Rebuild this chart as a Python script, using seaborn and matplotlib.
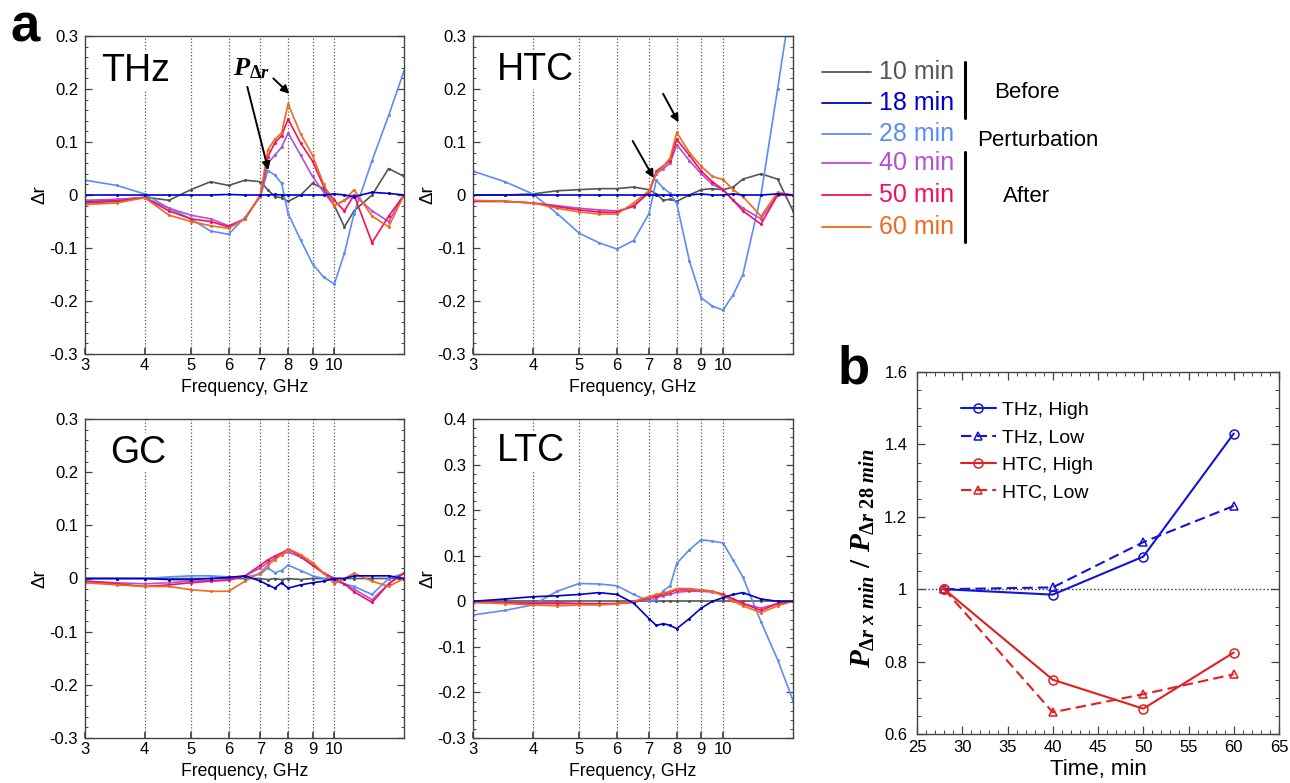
import numpy as np
import pandas as pd
import seaborn as sns
import matplotlib.pyplot as plt
from matplotlib.lines import Line2D
from matplotlib.ticker import AutoMinorLocator, FixedLocator, FuncFormatter, MultipleLocator, NullLocator

# ---------------- data ----------------
# frequency grid (GHz) shared by all spectra
FREQ = [3, 3.5, 4, 4.5, 5, 5.5, 6, 6.5, 7, 7.25, 7.5, 7.75, 8, 8.5, 9, 9.5, 10, 10.5, 11, 12, 13, 14]
TIMES = ['10 min', '18 min', '28 min', '40 min', '50 min', '60 min']
COLORS = {'10 min': '#555555', '18 min': '#0000CD', '28 min': '#5B8CF8',
          '40 min': '#B44FD6', '50 min': '#F5105C', '60 min': '#EF6A1E'}
DRAW_ORDER = ['10 min', '28 min', '40 min', '50 min', '60 min', '18 min']

# THz
thz_10 = [-0.012, -0.010, -0.004, -0.010, 0.010, 0.025, 0.018, 0.028, 0.025, 0.010, -0.003, -0.005,
          -0.012, 0.000, 0.022, 0.012, -0.020, -0.060, -0.030, 0.000, 0.050, 0.035]
thz_18 = [0.000, 0.000, 0.000, 0.000, 0.000, 0.000, 0.001, 0.000, 0.000, 0.000, 0.001, 0.000,
          0.000, 0.000, 0.000, 0.000, 0.002, 0.000, -0.003, 0.005, 0.003, 0.000]
thz_28 = [0.028, 0.018, 0.002, -0.025, -0.045, -0.068, -0.074, -0.042, -0.003, 0.046, 0.038, 0.022,
          -0.035, -0.085, -0.130, -0.155, -0.168, -0.110, -0.035, 0.065, 0.150, 0.234]
thz_40 = [-0.010, -0.008, -0.005, -0.025, -0.038, -0.045, -0.058, -0.045, 0.000, 0.060, 0.075, 0.090,
          0.117, 0.075, 0.035, 0.005, -0.020, -0.010, 0.000, -0.030, -0.050, 0.000]
thz_50 = [-0.015, -0.012, -0.005, -0.030, -0.045, -0.050, -0.060, -0.045, 0.000, 0.072, 0.098, 0.112,
          0.143, 0.098, 0.064, 0.016, -0.010, -0.030, 0.000, -0.090, -0.040, 0.000]
thz_60 = [-0.018, -0.015, -0.005, -0.038, -0.050, -0.058, -0.063, -0.045, 0.000, 0.085, 0.105, 0.117,
          0.172, 0.115, 0.075, 0.020, -0.020, -0.010, 0.010, -0.040, -0.060, 0.000]

# HTC
htc_10 = [0.000, 0.000, 0.002, 0.008, 0.010, 0.012, 0.012, 0.015, 0.010, 0.002, -0.010, -0.008,
          -0.012, 0.000, 0.010, 0.012, 0.010, 0.015, 0.030, 0.040, 0.030, -0.030]
htc_18 = [0.000, 0.000, 0.000, 0.000, 0.000, 0.000, 0.000, 0.000, 0.000, 0.000, 0.000, 0.000,
          0.000, 0.000, 0.002, 0.000, 0.000, 0.002, 0.000, 0.000, 0.002, 0.000]
htc_28 = [0.045, 0.025, 0.002, -0.035, -0.072, -0.090, -0.102, -0.086, -0.035, 0.028, 0.013, 0.003,
          -0.016, -0.124, -0.194, -0.210, -0.217, -0.188, -0.150, 0.000, 0.200, 0.390]
htc_40 = [-0.012, -0.012, -0.015, -0.020, -0.025, -0.028, -0.030, -0.022, 0.005, 0.040, 0.050, 0.060,
          0.095, 0.065, 0.040, 0.020, 0.010, -0.010, -0.025, -0.045, 0.000, 0.000]
htc_50 = [-0.012, -0.012, -0.015, -0.022, -0.028, -0.032, -0.033, -0.020, 0.005, 0.045, 0.055, 0.065,
          0.105, 0.075, 0.045, 0.025, 0.010, -0.010, -0.030, -0.055, 0.000, 0.000]
htc_60 = [-0.010, -0.012, -0.015, -0.025, -0.032, -0.036, -0.036, -0.015, 0.008, 0.041, 0.054, 0.070,
          0.118, 0.080, 0.054, 0.035, 0.029, 0.010, -0.003, -0.040, 0.005, 0.000]

# GC
gc_10 = [0.000, 0.000, 0.000, 0.000, 0.000, 0.000, 0.000, 0.000, 0.000, -0.002, 0.000, -0.002,
         0.000, -0.002, 0.000, 0.000, 0.000, 0.000, 0.000, 0.000, 0.000, 0.000]
gc_18 = [0.000, 0.000, 0.000, -0.002, -0.002, 0.000, 0.002, 0.005, -0.005, -0.012, -0.018, -0.008,
         -0.018, -0.012, -0.008, -0.005, 0.000, 0.000, 0.005, 0.005, 0.005, 0.000]
gc_28 = [0.000, 0.000, 0.000, 0.003, 0.005, 0.005, 0.003, 0.003, 0.008, 0.020, 0.011, 0.015,
         0.025, 0.015, 0.005, 0.000, -0.005, -0.010, -0.015, -0.030, 0.000, 0.010]
gc_40 = [-0.005, -0.008, -0.010, -0.008, -0.005, -0.004, -0.003, 0.005, 0.020, 0.030, 0.038, 0.045,
         0.050, 0.040, 0.025, 0.010, 0.000, -0.010, -0.020, -0.040, -0.010, 0.010]
gc_50 = [-0.005, -0.010, -0.015, -0.012, -0.008, -0.005, -0.003, 0.005, 0.025, 0.035, 0.042, 0.048,
         0.055, 0.042, 0.025, 0.010, 0.000, -0.010, -0.025, -0.045, -0.010, 0.010]
gc_60 = [-0.008, -0.012, -0.015, -0.015, -0.021, -0.024, -0.024, -0.005, 0.011, 0.025, 0.035, 0.045,
         0.056, 0.045, 0.030, 0.010, -0.010, 0.000, 0.010, -0.005, -0.015, 0.000]

# LTC
ltc_10 = [0.000, 0.000, 0.000, 0.000, 0.000, 0.000, 0.000, 0.000, 0.000, 0.000, 0.000, 0.000,
          0.000, 0.000, 0.000, 0.000, 0.000, 0.000, 0.000, 0.000, 0.000, 0.000]
ltc_18 = [0.000, 0.005, 0.010, 0.012, 0.015, 0.019, 0.015, -0.004, -0.038, -0.053, -0.049, -0.053,
          -0.060, -0.038, -0.015, 0.000, 0.008, 0.015, 0.019, 0.005, 0.000, 0.000]
ltc_28 = [-0.030, -0.020, -0.008, 0.022, 0.039, 0.038, 0.034, 0.015, 0.000, 0.004, 0.023, 0.034,
          0.083, 0.113, 0.135, 0.132, 0.128, 0.090, 0.053, -0.045, -0.128, -0.218]
ltc_40 = [-0.003, -0.003, -0.003, -0.003, -0.005, -0.005, -0.005, -0.002, 0.005, 0.008, 0.012, 0.015,
          0.020, 0.022, 0.022, 0.020, 0.015, 0.005, -0.005, -0.015, -0.005, 0.000]
ltc_50 = [0.000, -0.003, -0.005, -0.005, -0.005, -0.006, -0.005, -0.002, 0.008, 0.012, 0.015, 0.020,
          0.025, 0.025, 0.025, 0.022, 0.015, 0.005, -0.005, -0.020, -0.005, 0.000]
ltc_60 = [-0.002, -0.005, -0.008, -0.010, -0.008, -0.008, -0.006, 0.000, 0.010, 0.015, 0.018, 0.022,
          0.028, 0.028, 0.025, 0.022, 0.012, 0.000, -0.010, -0.025, -0.010, 0.000]

# panel b: P_dr ratio vs time
TIME_MIN = [28, 40, 50, 60]
thz_high = [1.0, 0.985, 1.09, 1.43]
thz_low = [1.0, 1.005, 1.13, 1.23]
htc_high = [1.0, 0.75, 0.67, 0.825]
htc_low = [1.0, 0.66, 0.71, 0.765]

# ---------------- style ----------------
sns.set_theme(style='ticks')
plt.rcParams['font.family'] = ['Liberation Sans', 'DejaVu Sans']
plt.rcParams['axes.unicode_minus'] = False
plt.rcParams['text.color'] = 'black'
plt.rcParams['xtick.labelcolor'] = 'black'
plt.rcParams['ytick.labelcolor'] = 'black'
plt.rcParams['mathtext.fontset'] = 'custom'
plt.rcParams['mathtext.it'] = 'Liberation Serif:italic:bold'
plt.rcParams['mathtext.rm'] = 'Liberation Serif:bold'
plt.rcParams['mathtext.bf'] = 'Liberation Serif:bold'

W, H = 1290, 783
EDGE = '#444444'


def fx(px):
    return px / W


def fy(py):
    return 1 - py / H


def rect(l, t, r, b):
    return [l / W, 1 - b / H, (r - l) / W, (b - t) / H]


def num_fmt(v, pos):
    return f'{round(v, 3) + 0.0:g}'


fig = plt.figure(figsize=(W / 100, H / 100), dpi=100)


def spectrum_panel(box, name, series, ylim, title_xy):
    ax = fig.add_axes(rect(*box))
    rows = []
    for t, vals in zip(TIMES, series):
        rows += [{'freq': f, 'dr': v, 'time': t} for f, v in zip(FREQ, vals)]
    df = pd.DataFrame(rows)
    sns.lineplot(data=df, x='freq', y='dr', hue='time', hue_order=DRAW_ORDER, palette=COLORS,
                 estimator=None, sort=False, lw=1.2, marker='o', markersize=2.2,
                 markeredgewidth=0, legend=False, ax=ax)
    ax.set_xscale('log')
    ax.set_xlim(3, 14)
    ax.set_ylim(*ylim)
    for f in [4, 5, 6, 7, 8, 9, 10]:
        ax.axvline(f, color='#555555', ls=':', lw=0.9, zorder=0.5)
    ax.xaxis.set_major_locator(FixedLocator([3, 4, 5, 6, 7, 8, 9, 10]))
    ax.xaxis.set_major_formatter(FuncFormatter(num_fmt))
    ax.xaxis.set_minor_locator(NullLocator())
    ax.yaxis.set_major_locator(MultipleLocator(0.1))
    ax.yaxis.set_minor_locator(AutoMinorLocator(5))
    ax.yaxis.set_major_formatter(FuncFormatter(num_fmt))
    ax.tick_params(axis='y', which='both', direction='in', left=True, right=True, color=EDGE)
    ax.tick_params(axis='y', which='major', length=5, width=0.9, labelsize=12, pad=5)
    ax.tick_params(axis='y', which='minor', length=2.5, width=0.7)
    ax.tick_params(axis='x', which='major', direction='in', length=4, color=EDGE, labelsize=12, pad=3)
    ax.set_xlabel('')
    ax.set_ylabel('')
    for s in ax.spines.values():
        s.set_color(EDGE)
        s.set_linewidth(1.0)
    ax.text(title_xy[0], title_xy[1], name, transform=ax.transAxes, fontsize=27, va='top', ha='left',
            zorder=5, bbox=dict(facecolor='white', edgecolor='none', pad=1))
    l, t, r, b = box
    fig.text(fx((l + r) / 2), fy(b + 34), 'Frequency, GHz', ha='center', va='center', fontsize=12.7)
    fig.text(fx(l - 45), fy((t + b) / 2), 'Δr', ha='center', va='center', rotation=90, fontsize=13.5)
    return ax


ax_thz = spectrum_panel((85, 36, 404, 354), 'THz',
                        [thz_10, thz_18, thz_28, thz_40, thz_50, thz_60], (-0.3, 0.3), (0.052, 0.945))
ax_htc = spectrum_panel((473, 36, 793, 354), 'HTC',
                        [htc_10, htc_18, htc_28, htc_40, htc_50, htc_60], (-0.3, 0.3), (0.075, 0.95))
ax_gc = spectrum_panel((85, 419, 404, 738), 'GC',
                       [gc_10, gc_18, gc_28, gc_40, gc_50, gc_60], (-0.3, 0.3), (0.078, 0.95))
ax_ltc = spectrum_panel((473, 419, 793, 738), 'LTC',
                        [ltc_10, ltc_18, ltc_28, ltc_40, ltc_50, ltc_60], (-0.3, 0.4), (0.075, 0.955))

# peak markers
arrow = dict(arrowstyle='-|>', color='black', lw=1.4, mutation_scale=12, shrinkA=0, shrinkB=0)
ax_thz.text(6.72, 0.238, r'$P_{\Delta r}$', fontsize=19, ha='center', va='center', zorder=6)
ax_thz.annotate('', xy=(7.27, 0.047), xytext=(6.57, 0.204), arrowprops=arrow, zorder=6)
ax_thz.annotate('', xy=(8.05, 0.191), xytext=(7.45, 0.22), arrowprops=arrow, zorder=6)
ax_htc.annotate('', xy=(7.16, 0.032), xytext=(6.47, 0.102), arrowprops=arrow, zorder=6)
ax_htc.annotate('', xy=(8.07, 0.137), xytext=(7.49, 0.191), arrowprops=arrow, zorder=6)

# legend for the spectra
legend_y = [72, 103, 134, 163, 195, 227]
for t, y in zip(TIMES, legend_y):
    fig.add_artist(Line2D([fx(822), fx(871)], [fy(y), fy(y)], color=COLORS[t], lw=1.3))
    fig.text(fx(879), fy(y), t, color=COLORS[t], fontsize=18, ha='left', va='center')
fig.add_artist(Line2D([fx(965), fx(965)], [fy(62), fy(118)], color='black', lw=2.2))
fig.add_artist(Line2D([fx(965), fx(965)], [fy(152), fy(242)], color='black', lw=2.2))
fig.text(fx(1027), fy(92), 'Before', fontsize=16, ha='center', va='center')
fig.text(fx(1038), fy(140), 'Perturbation', fontsize=16, ha='center', va='center')
fig.text(fx(1027), fy(197), 'After', fontsize=16, ha='center', va='center')

# ---------------- panel b ----------------
axb = fig.add_axes(rect(917, 372, 1279, 734))
BLUE, RED = '#1414D2', '#E41E1E'
dash = (0, (5, 2.5))
b_series = [('THz, High', thz_high, BLUE, '-', 'o', 6.5),
            ('THz, Low', thz_low, BLUE, dash, '^', 6),
            ('HTC, High', htc_high, RED, '-', 'o', 6.5),
            ('HTC, Low', htc_low, RED, dash, '^', 6)]
for label, vals, color, ls, mk, ms in b_series:
    sns.lineplot(x=TIME_MIN, y=vals, ax=axb, color=color, linestyle=ls, lw=1.5, marker=mk,
                 markersize=ms, markerfacecolor='none', markeredgecolor=color, markeredgewidth=1.1,
                 label=label)
axb.axhline(1.0, color='#333333', ls=':', lw=1.0, zorder=0.5)
axb.set_xlim(25, 65)
axb.set_ylim(0.6, 1.6)
axb.xaxis.set_major_locator(MultipleLocator(5))
axb.xaxis.set_minor_locator(MultipleLocator(1))
axb.yaxis.set_major_locator(MultipleLocator(0.2))
axb.yaxis.set_minor_locator(AutoMinorLocator(4))
axb.xaxis.set_major_formatter(FuncFormatter(num_fmt))
axb.yaxis.set_major_formatter(FuncFormatter(num_fmt))
axb.tick_params(which='both', direction='in', top=True, right=True, color=EDGE)
axb.tick_params(which='major', length=6, width=0.9, labelsize=12)
axb.tick_params(axis='y', which='major', pad=7)
axb.tick_params(axis='x', which='major', pad=4)
axb.tick_params(which='minor', length=3, width=0.7)
for s in axb.spines.values():
    s.set_color(EDGE)
    s.set_linewidth(1.0)
axb.set_xlabel('')
axb.set_ylabel('')
axb.legend(loc='upper left', bbox_to_anchor=(0.1, 0.94), frameon=False, fontsize=14,
           handlelength=1.8, handletextpad=0.3, labelspacing=0.5, borderaxespad=0)
fig.text(fx(1098), fy(770), 'Time, min', fontsize=16, ha='center', va='center')
fig.text(fx(863), fy(558), r'$P_{\Delta r\ x\ min}\ /\ P_{\Delta r\ 28\ min}$', fontsize=21,
         rotation=90, ha='center', va='center')

# panel letters
fig.text(fx(10), fy(42), 'a', fontsize=38, fontweight='bold', ha='left', va='baseline')
fig.text(fx(838), fy(383), 'b', fontsize=38, fontweight='bold', ha='left', va='baseline')

fig.savefig('out.png', dpi=100)
